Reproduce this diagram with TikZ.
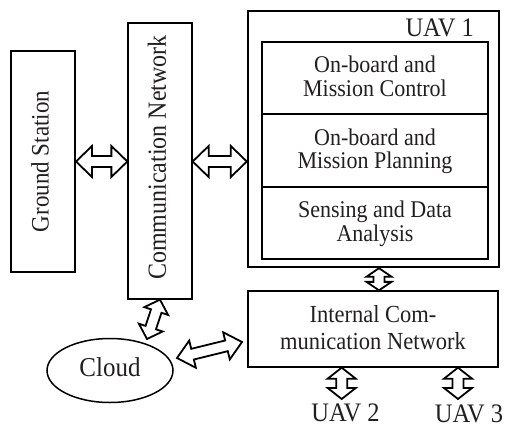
\documentclass[tikz,border=0pt]{standalone}
\usepackage{graphicx}
\usepackage{fontspec}
\setmainfont{Liberation Serif}
\usetikzlibrary{calc,shapes.geometric}
\definecolor{ink}{HTML}{231F20}
\tikzset{
  box/.style={draw=black, fill=white, inner sep=0pt, line width=1.3pt},
  txt/.style={text=ink, inner sep=0pt, align=center},
  blk/.style={draw=black, fill=white, line width=1.8pt, line join=miter},
}
\newcommand{\tall}[1]{\scalebox{1}[1.09]{\begin{tabular}{@{}c@{}}#1\end{tabular}}}
% #1,#2 tips; #3 shaft half width; #4 head half width; #5 head length
\newcommand{\dblarrow}[5]{%
  \coordinate (da1) at ($(#1)!#5!(#2)$);
  \coordinate (da2) at ($(#2)!#5!(#1)$);
  \draw[blk] (#1) -- ($(da1)!#4!90:(#2)$) -- ($(da1)!#3!90:(#2)$)
    -- ($(da2)!#3!-90:(#1)$) -- ($(da2)!#4!-90:(#1)$) -- (#2)
    -- ($(da2)!#4!90:(#1)$) -- ($(da2)!#3!90:(#1)$)
    -- ($(da1)!#3!-90:(#2)$) -- ($(da1)!#4!-90:(#2)$) -- cycle;
}
\begin{document}
\begin{tikzpicture}[x=1pt,y=-1pt]
\useasboundingbox (0,0) rectangle (506,428);

% Ground station
\node[box, line width=2pt, minimum width=64pt, minimum height=221pt] (gs) at (43,161.5) {};
\node[txt, rotate=90, font=\fontsize{23}{26}\selectfont] (gst) at (gs.center) {\tall{Ground Station}};

% Communication network
\node[box, minimum width=64pt, minimum height=276pt] (cn) at (160,161) {};
\node[txt, rotate=90, font=\fontsize{24}{27}\selectfont] (cnt) at (160,157.5) {\tall{Communication Network}};

% UAV 1
\node[box, line width=2.4pt, minimum width=251pt, minimum height=256pt] (uav1) at (373.5,139) {};
\node[txt, anchor=base east, font=\fontsize{24.5}{27}\selectfont] (uav1t) at (474,37) {\tall{UAV 1}};
\node[box, minimum width=226pt, minimum height=72pt] (b1) at (375,78) {};
\node[box, minimum width=226pt, minimum height=73pt] (b2) at (375,150.5) {};
\node[box, minimum width=226pt, minimum height=72pt] (b3) at (375,223) {};
\node[txt, font=\fontsize{22}{20.2}\selectfont] (b1t) at (375,79.5) {\tall{On-board and\\Mission Control}};
\node[txt, font=\fontsize{22}{20.2}\selectfont] (b2t) at (375,152) {\tall{On-board and\\Mission Planning}};
\node[txt, font=\fontsize{22}{20.2}\selectfont] (b3t) at (375,224.5) {\tall{Sensing and Data\\Analysis}};

% Internal communication network
\node[box, minimum width=250pt, minimum height=76pt] (icn) at (373,329) {};
\node[txt, font=\fontsize{22.5}{24.3}\selectfont] (icnt) at (373,330.5) {\tall{Internal Com-\\munication Network}};

% Cloud
\node[draw=black, line width=1.5pt, ellipse, inner sep=0pt, minimum width=126pt, minimum height=64pt] (cloud) at (110,370.5) {};
\node[txt, font=\fontsize{25}{28}\selectfont] (cloudt) at (cloud.center) {\tall{Cloud}};

% UAV 2 / UAV 3 labels
\node[txt, anchor=base, font=\fontsize{24.5}{27}\selectfont] (uav2) at (345.5,422.5) {\tall{UAV 2}};
\node[txt, anchor=base, font=\fontsize{24.5}{27}\selectfont] (uav3) at (469,423.5) {\tall{UAV 3}};

% arrow end points
\coordinate (a1) at (gs.east);
\coordinate (a2) at (cn.west |- gs.east);
\coordinate (a3) at (cn.east |- gs.east);
\coordinate (a4) at (uav1.west |- gs.east);
\coordinate (a5) at ($(uav1.south)+(5.5,0)$);
\coordinate (a6) at (icn.north -| a5);
\coordinate (u2tip) at (341.7,399);
\coordinate (u2top) at (icn.south -| u2tip);
\coordinate (u3tip) at (458,399);
\coordinate (u3top) at (icn.south -| u3tip);
\coordinate (c1) at (cn.south);
\coordinate (c2) at (147,339);
\coordinate (c3) at (177,358);
\coordinate (c4) at (242,342);

\dblarrow{a1}{a2}{5.5pt}{15.5pt}{16pt}
\dblarrow{a3}{a4}{5.5pt}{15.5pt}{16pt}
\dblarrow{a5}{a6}{5.5pt}{12.5pt}{8.5pt}
\dblarrow{u2top}{u2tip}{5.5pt}{14pt}{11pt}
\dblarrow{u3top}{u3tip}{5.5pt}{14pt}{11pt}
\dblarrow{c1}{c2}{5.5pt}{12.5pt}{12pt}
\dblarrow{c3}{c4}{5.5pt}{14pt}{16pt}
\end{tikzpicture}
\end{document}
